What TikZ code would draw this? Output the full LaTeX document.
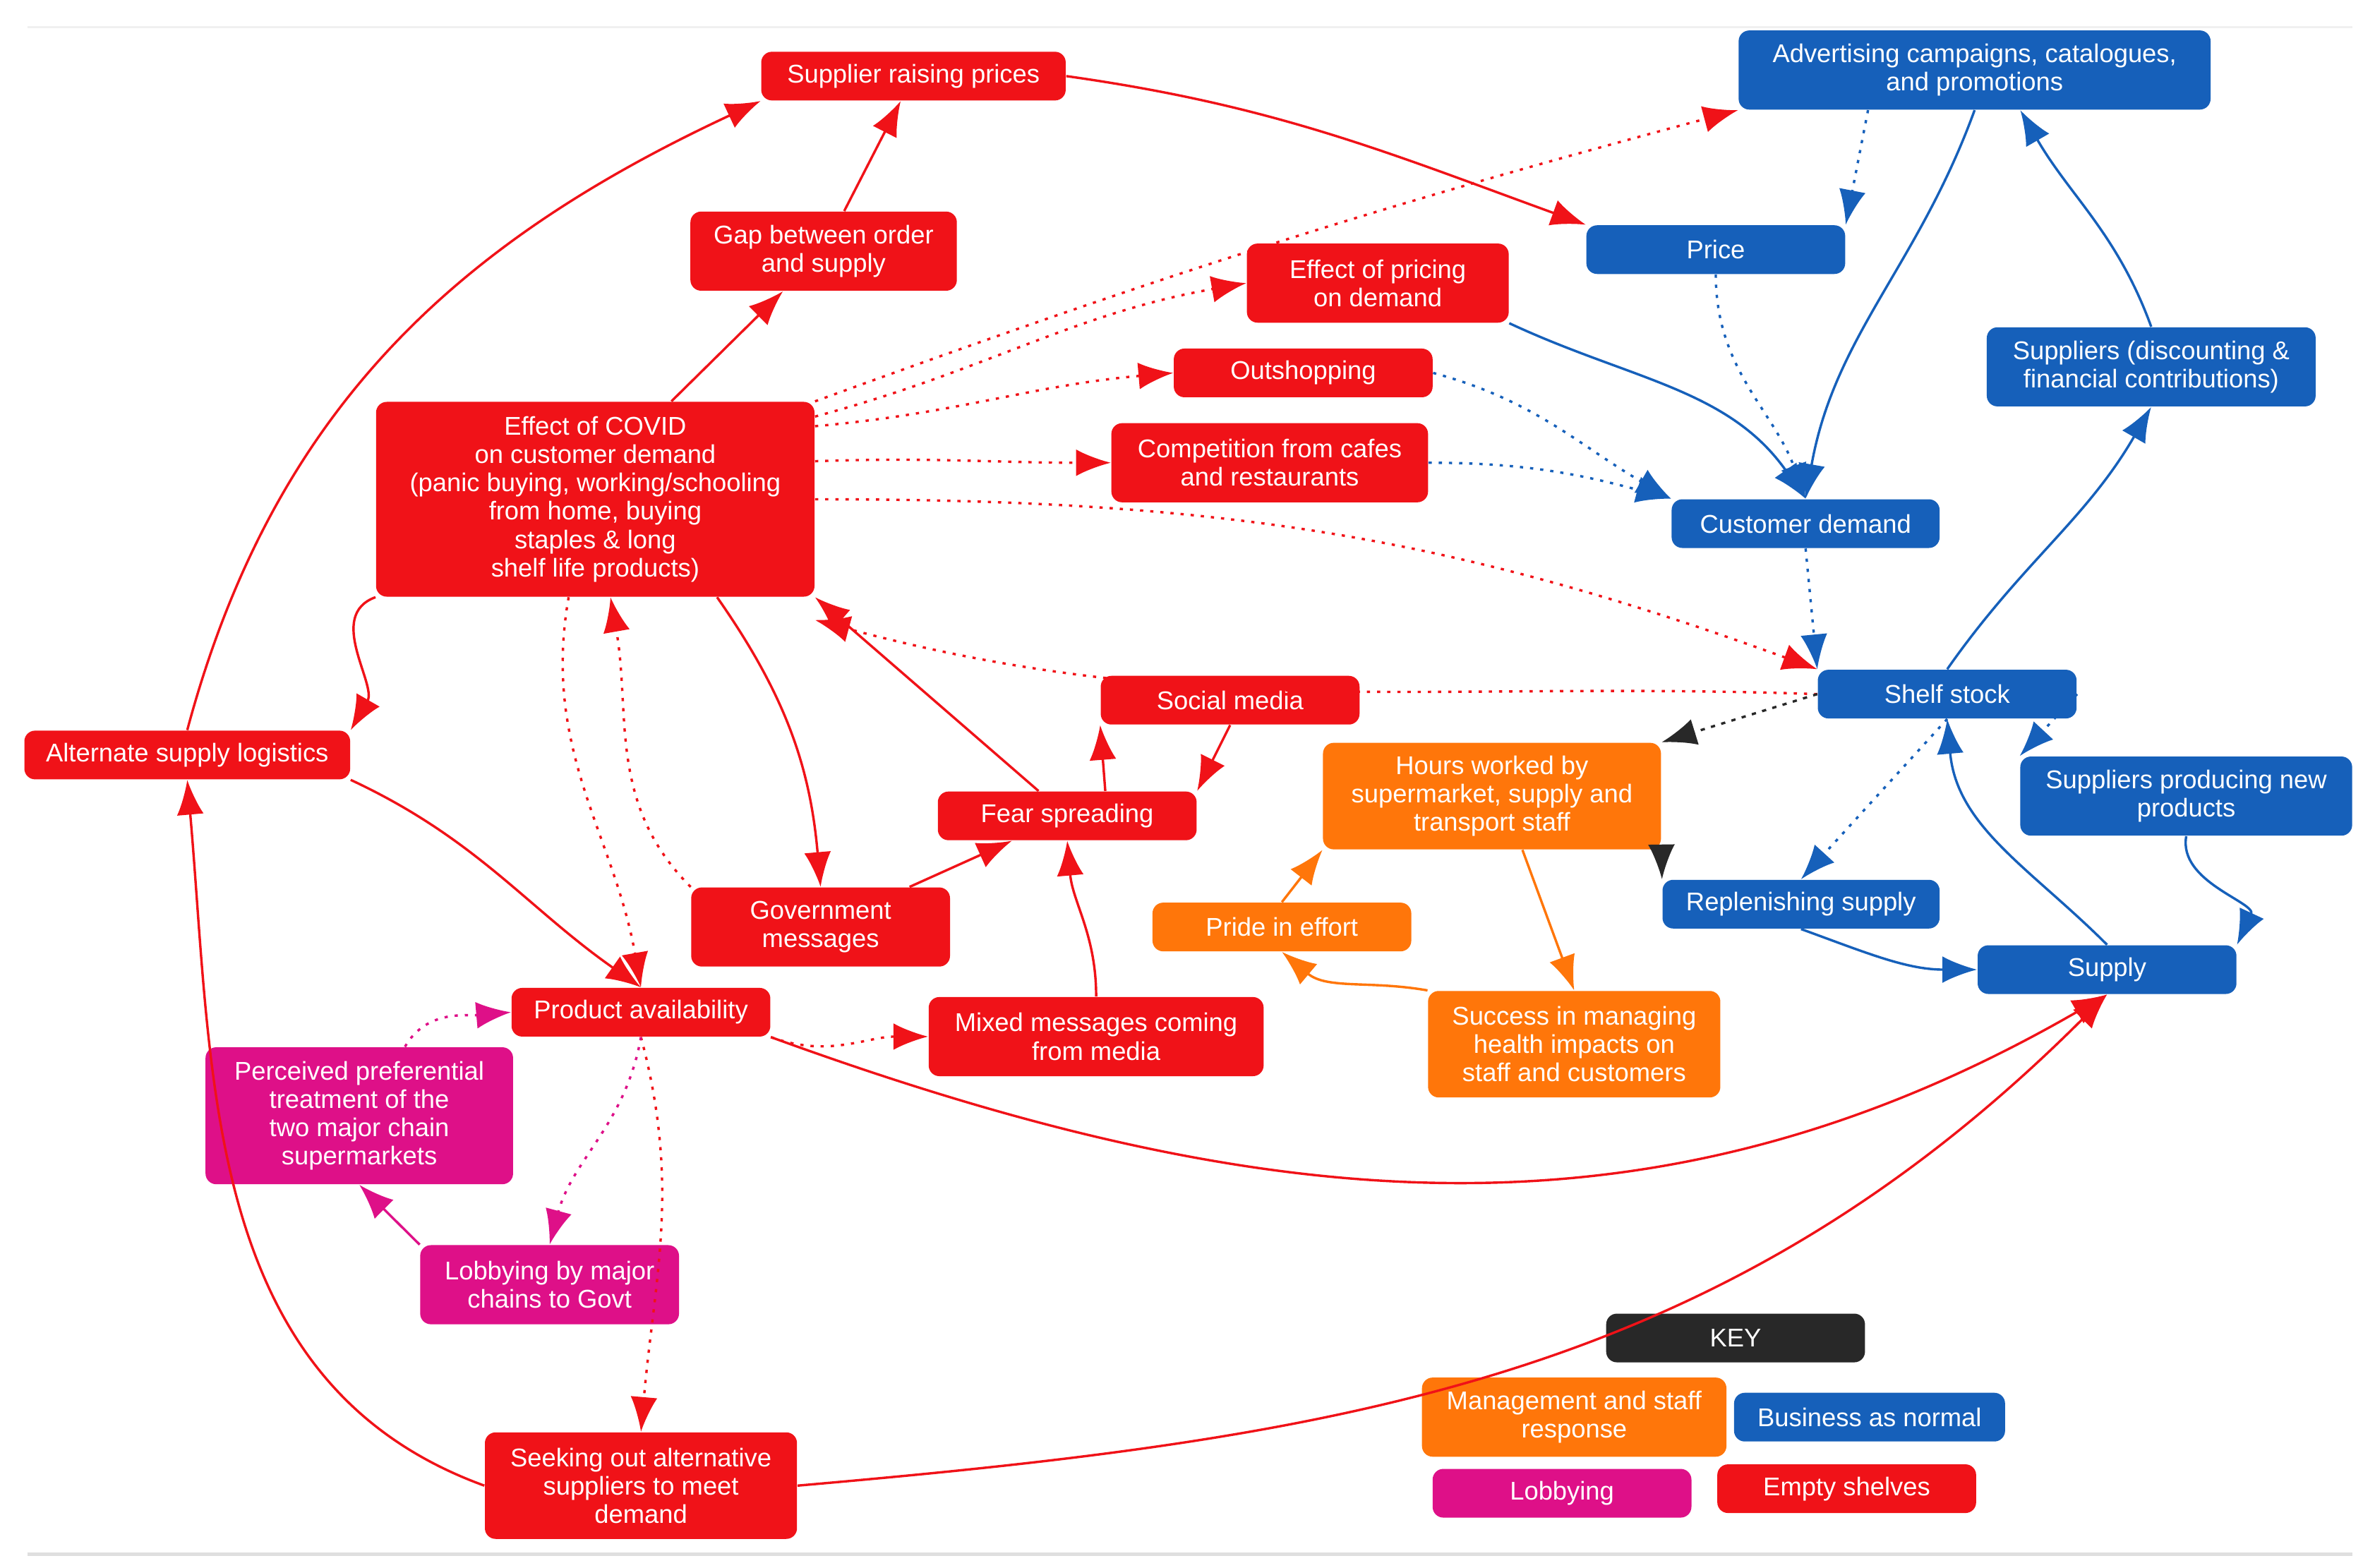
\documentclass[tikz,border=0pt]{standalone}
\usepackage{fontspec}
\setmainfont{Liberation Sans}
\usetikzlibrary{arrows.meta}
\definecolor{cR}{RGB}{240,18,24}
\definecolor{cB}{RGB}{22,96,186}
\definecolor{cO}{RGB}{255,118,10}
\definecolor{cM}{RGB}{222,16,136}
\definecolor{cK}{RGB}{40,40,40}
\begin{document}
\begin{tikzpicture}[x=0.02cm,y=-0.02cm,
 box/.style={rounded corners=4pt,text=white,align=center,inner sep=1pt,font=\fontsize{9.6}{10.6}\selectfont,minimum width=#1*0.02cm},
 R/.style={box=#1,fill=cR},B/.style={box=#1,fill=cB},O/.style={box=#1,fill=cO},M/.style={box=#1,fill=cM},K/.style={box=#1,fill=cK},
 h1/.style={minimum height=0.64cm},h2/.style={minimum height=1.04cm},h3/.style={minimum height=1.4cm},
 ar/.style={line width=0.9pt,-{Latex[length=13pt,width=10pt]}},
 dt/.style={ar,dash pattern=on 1.2pt off 2.6pt},
 rs/.style={ar,cR},rd/.style={dt,cR},bs/.style={ar,cB},bd/.style={dt,cB},
 ms/.style={ar,cM},md/.style={dt,cM},os/.style={ar,cO}]
\fill[white] (0,0) rectangle (1560,1030);
\useasboundingbox (0,0) rectangle (1560,1030);
\draw[gray!25,line width=1.5pt] (18,1021)--(1545,1021);
\draw[gray!12,line width=0.8pt] (18,18)--(1545,18);
% nodes
\node[R=200,h1] (srp) at (600,50) {Supplier raising prices};
\node[R=175,h2] (gap) at (541,165) {Gap between order\\and supply};
\node[R=172,h2] (epd) at (905,186) {Effect of pricing\\on demand};
\node[R=170,h1] (out) at (856,245) {Outshopping};
\node[R=208,h2] (comp) at (834,304) {Competition from cafes\\and restaurants};
\node[R=288,minimum height=2.56cm] (cov) at (391,328) {Effect of COVID\\on customer demand\\(panic buying, working/schooling\\from home, buying\\staples \& long\\shelf life products)};
\node[B=310,h2] (adv) at (1297,46) {Advertising campaigns, catalogues,\\and promotions};
\node[B=170,h1] (price) at (1127,164) {Price};
\node[B=216,h2] (sdisc) at (1413,241) {Suppliers (discounting \&\\financial contributions)};
\node[B=176,h1] (cd) at (1186,344) {Customer demand};
\node[B=170,h1] (shelf) at (1279,456) {Shelf stock};
\node[R=170,h1] (soc) at (808,460) {Social media};
\node[R=214,h1] (alt) at (123,496) {Alternate supply logistics};
\node[O=222,h3] (hours) at (980,523) {Hours worked by\\supermarket, supply and\\transport staff};
\node[B=218,h2] (snew) at (1436,523) {Suppliers producing new\\products};
\node[R=170,h1] (fear) at (701,536) {Fear spreading};
\node[R=170,h2] (gov) at (539,609) {Government\\messages};
\node[O=170,h1] (pride) at (842,609) {Pride in effort};
\node[B=182,h1] (rep) at (1183,594) {Replenishing supply};
\node[B=170,h1] (sup) at (1384,637) {Supply};
\node[R=170,h1] (pa) at (421,665) {Product availability};
\node[R=220,h2] (mix) at (720,681) {Mixed messages coming\\from media};
\node[O=192,h3] (succ) at (1034,686) {Success in managing\\health impacts on\\staff and customers};
\node[M=202,minimum height=1.8cm] (perc) at (236,733) {Perceived preferential\\treatment of the\\two major chain\\supermarkets};
\node[M=170,h2] (lob) at (361,844) {Lobbying by major\\chains to Govt};
\node[R=205,h3] (seek) at (421,976) {Seeking out alternative\\suppliers to meet\\demand};
\node[K=170,h1] (key) at (1140,879) {KEY};
\node[O=200,h2] (k1) at (1034,931) {Management and staff\\response};
\node[B=178,h1] (k2) at (1228,931) {Business as normal};
\node[M=170,h1] (k3) at (1026,981) {Lobbying};
\node[R=170,h1] (k4) at (1213,978) {Empty shelves};
% red solid
\draw[rs] (srp.east) to[out=-8,in=160] (price.north west);
\draw[rs] (gap) -- (srp);
\draw[rs] (cov.north) ++(50,0) -- (gap);
\draw[rs] (alt.north) to[out=75,in=205] (srp.south west);
\draw[rs] (cov.south west) to[out=200,in=60] (alt.north east);
\draw[rs] (alt.south east) to[out=-25,in=145] (pa.north);
\draw[rs] (cov.south) ++(80,0) to[out=-55,in=95] (gov.north);
\draw[rs] (gov) -- (fear);
\draw[rs] (fear) -- (cov.south east);
\draw[rs] (fear.north) ++(25,0) -- (soc.south west);
\draw[rs] (soc.south) -- (fear.north east);
\draw[rs] (mix.north) to[out=90,in=-85] (fear.south);
\draw[rs] (pa.south east) to[out=-20,in=210] (sup.south);
\draw[rs] (seek.east) to[out=5,in=225] (sup.south);
\draw[rs] (seek.west) to[out=160,in=-85] (alt.south);
% red dotted
\draw[rd] (cov.north east) to[out=20,in=195] (adv.south west);
\draw[rd] (cov.north east) ++(0,10) to[out=15,in=190] (epd.west);
\draw[rd] (cov.east) ++(0,-48) to[out=5,in=185] (out.west);
\draw[rd] (cov.east) ++(0,-25) to[out=2,in=180] (comp.west);
\draw[rd] (cov.east) to[out=0,in=160] (shelf.north west);
\draw[rd] (shelf.west) to[out=178,in=-15] ([yshift=-0.3cm]cov.south east);
\draw[rd] (gov.north west) to[out=135,in=-80] ([xshift=0.2cm]cov.south);
\draw[rd] ([xshift=-0.35cm]cov.south) to[out=-100,in=100] (pa.north);
\draw[rd] (pa.south east) to[out=-20,in=180] (mix.west);
\draw[rd] (pa.south) to[out=-75,in=85] (seek.north);
% magenta
\draw[md] (pa.south) to[out=-100,in=75] (lob.north);
\draw[ms] (lob.north west) -- (perc.south);
\draw[md] (perc.north) ++(30,0) to[out=60,in=185] (pa.west);
% blue solid
\draw[bs] (adv.south) to[out=-110,in=80] (cd.north);
\draw[bs] (epd.south east) to[out=-25,in=125] (cd.north);
\draw[bs] (sdisc.north) to[out=110,in=-60] ([xshift=0.6cm]adv.south);
\draw[bs] (shelf.north) to[out=55,in=-120] (sdisc.south);
\draw[bs] (sup.north) to[out=135,in=-85] (shelf.south);
\draw[bs] (snew.south) to[out=-100,in=65] (sup.north east);
\draw[bs] (rep.south) to[out=-20,in=180] (sup.west);
% blue dotted
\draw[bd] (adv.south) ++(-70,0) -- (price.north east);
\draw[bd] (price.south) to[out=-90,in=110] (cd.north);
\draw[bd] (out.east) to[out=-15,in=150] (cd.north west);
\draw[bd] (comp.east) to[out=0,in=165] (cd.north west);
\draw[bd] (cd.south) -- (shelf.north west);
\draw[bd] (shelf.east) -- (snew.north west);
\draw[bd] (shelf.south) -- (rep.north);
% black / orange
\draw[ar,cK,dash pattern=on 1.6pt off 2.4pt] (shelf.west) -- (hours.north east);
\draw[ar,cK] (hours.south east) -- (rep.north west);
\draw[os] (pride.north) -- (hours.south west);
\draw[os] (hours.south) ++(20,0) -- (succ.north);
\draw[os] (succ.north west) to[out=170,in=-40] (pride.south);
\end{tikzpicture}
\end{document}
